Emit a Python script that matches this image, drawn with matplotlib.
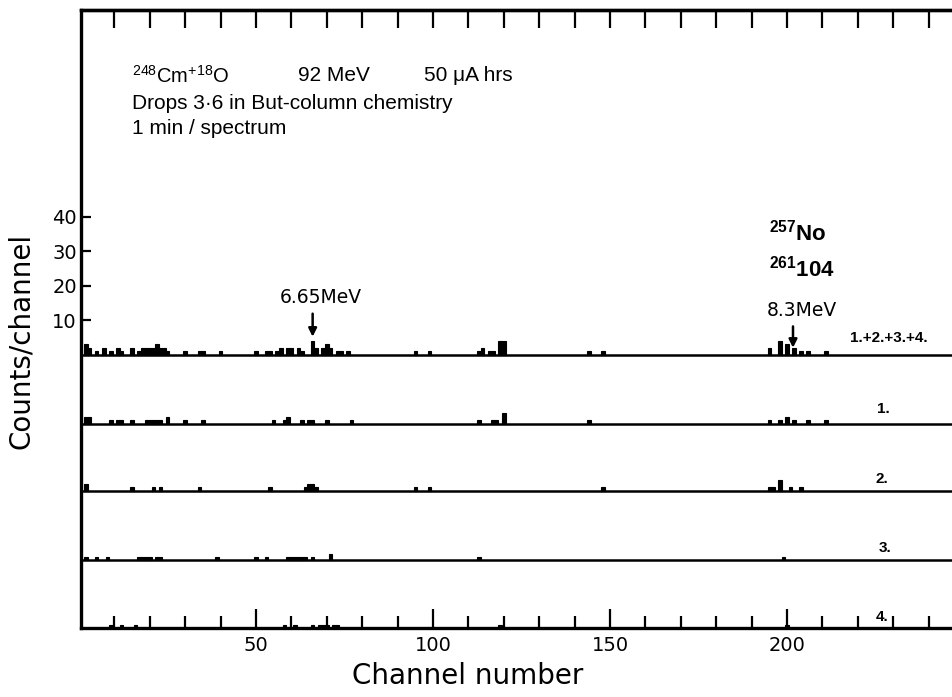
import matplotlib
matplotlib.use("Agg")
import matplotlib.pyplot as plt
from matplotlib.ticker import MultipleLocator, FixedLocator

plt.rcParams['mathtext.fontset'] = 'custom'
plt.rcParams['mathtext.rm'] = 'Liberation Sans'
plt.rcParams['mathtext.it'] = 'Liberation Sans:italic'
plt.rcParams['mathtext.bf'] = 'Liberation Sans:bold'

# ---- data: (channel, counts) for each spectrum ----
sum_channels = [2, 3, 5, 7, 9, 11, 12, 15, 17, 18, 19, 20, 21, 22, 23, 24, 25, 30, 34, 35, 40,
                50, 53, 54, 56, 57, 59, 60, 62, 63, 66, 67, 69, 70, 71, 73, 74, 76,
                95, 99, 113, 114, 116, 117, 119, 120, 144, 148,
                195, 198, 200, 202, 204, 206, 211]
sum_counts = [3, 2, 1, 2, 1, 2, 1, 2, 1, 2, 2, 2, 2, 3, 2, 2, 1, 1, 1, 1, 1,
              1, 1, 1, 1, 2, 2, 2, 2, 1, 4, 2, 2, 3, 2, 1, 1, 1,
              1, 1, 1, 2, 1, 1, 4, 4, 1, 1,
              2, 4, 3, 2, 1, 1, 1]

s1_channels = [2, 3, 9, 11, 12, 15, 19, 20, 21, 22, 23, 25, 30, 35, 55, 58, 59, 63, 65, 66, 70, 77,
               113, 117, 118, 120, 144, 195, 198, 200, 202, 206, 211]
s1_counts = [2, 2, 1, 1, 1, 1, 1, 1, 1, 1, 1, 2, 1, 1, 1, 1, 2, 1, 1, 1, 1, 1,
             1, 1, 1, 3, 1, 1, 1, 2, 1, 1, 1]

s2_channels = [2, 15, 21, 23, 34, 54, 64, 65, 66, 67, 95, 99, 148, 195, 196, 198, 201, 204]
s2_counts = [2, 1, 1, 1, 1, 1, 1, 2, 2, 1, 1, 1, 1, 1, 1, 3, 1, 1]

s3_channels = [2, 5, 8, 17, 18, 19, 20, 22, 23, 39, 50, 53, 59, 60, 61, 62, 63, 64, 66, 71, 113, 199]
s3_counts = [1, 1, 1, 1, 1, 1, 1, 1, 1, 1, 1, 1, 1, 1, 1, 1, 1, 1, 1, 2, 1, 1]

s4_channels = [9, 12, 16, 58, 61, 66, 68, 69, 70, 72, 73, 119, 200]
s4_counts = [1, 1, 1, 1, 1, 1, 1, 1, 1, 1, 1, 1, 1]

spectra = [(sum_channels, sum_counts), (s1_channels, s1_counts), (s2_channels, s2_counts),
           (s3_channels, s3_counts), (s4_channels, s4_counts)]
spectrum_labels = ["1.+2.+3.+4.", "1.", "2.", "3.", "4."]
offsets = [0, -20, -39.5, -59.7, -79.3]

y_ticks = [10, 20, 30, 40]
x_major = [50, 100, 150, 200]

# ---- figure ----
fig = plt.figure(figsize=(9.53, 6.97), dpi=100)
ax = fig.add_axes([81 / 953, 69 / 697, 1 - 81 / 953, (628 - 10) / 697])
ax.set_xlim(0.56, 246.9)
ax.set_ylim(-79.3, 100)

for (ch, ct), off in zip(spectra, offsets):
    ax.bar(ch, ct, width=1.0, bottom=off, color='black', edgecolor='black', linewidth=0.8)
    ax.axhline(off, color='black', lw=1.8, zorder=3)

lab_pos = [(217.8, 4.9), (225.4, -15.7), (225, -36), (226, -56), (225, -76)]
for lab, (lx, ly) in zip(spectrum_labels, lab_pos):
    ax.text(lx, ly, lab, fontsize=11, family='Liberation Sans', fontweight='bold', va='center')

# spines
for s in ['left', 'top', 'bottom']:
    ax.spines[s].set_linewidth(2.4)
ax.spines['right'].set_visible(False)

# ticks
ax.xaxis.set_major_locator(FixedLocator(x_major))
ax.xaxis.set_minor_locator(MultipleLocator(10))
ax.tick_params(axis='x', which='major', direction='in', length=14, width=1.6,
               labelsize=14, pad=6, top=False)
ax.tick_params(axis='x', which='minor', direction='in', length=9, width=1.6, top=False)
ax.set_yticks(y_ticks)
ax.set_yticklabels([str(v) for v in y_ticks])
ax.tick_params(axis='y', direction='in', length=7, width=1.6, labelsize=14, pad=3, right=False)

sec = ax.secondary_xaxis('top')
sec.xaxis.set_major_locator(MultipleLocator(10))
sec.tick_params(axis='x', direction='in', length=13, width=1.6, labeltop=False)
sec.spines['top'].set_linewidth(2.4)

ax.set_xlabel("Channel number", fontsize=20, va='top')
ax.xaxis.set_label_coords(0.443, -0.055)
ax.set_ylabel("Counts/channel", fontsize=20)
ax.yaxis.set_label_coords(-0.053, 0.464)

# annotations
tf = dict(family='Liberation Sans', fontsize=15, va='center')
ax.text(15, 80.9, r'$\mathregular{^{248}Cm^{+}{}^{18}O}$', family='Liberation Sans',
        fontsize=14.5, va='center')
ax.text(62.0, 80.9, '92 MeV', **tf)
ax.text(97.5, 80.9, '50 μA hrs', **tf)
ax.text(15, 73, 'Drops 3·6 in But-column chemistry', **tf)
ax.text(15, 65.5, '1 min / spectrum', **tf)
ax.text(195, 35.4, r'$\mathregular{^{257}No}$', family='Liberation Sans', fontsize=16,
        fontweight='bold', va='center')
ax.text(195, 25, r'$\mathregular{^{261}104}$', family='Liberation Sans', fontsize=16,
        fontweight='bold', va='center')

ax.annotate('', xy=(66, 4.4), xytext=(66, 12.7),
            arrowprops=dict(arrowstyle='-|>', color='black', lw=1.8, mutation_scale=12))
ax.text(56.8, 16.5, '6.65MeV', family='DejaVu Sans', fontsize=13.5, va='center')
ax.annotate('', xy=(201.7, 1.2), xytext=(201.7, 9.0),
            arrowprops=dict(arrowstyle='-|>', color='black', lw=1.8, mutation_scale=12))
ax.text(194.4, 12.8, '8.3MeV', family='DejaVu Sans', fontsize=13.5, va='center')

fig.savefig("out.png", dpi=100)
